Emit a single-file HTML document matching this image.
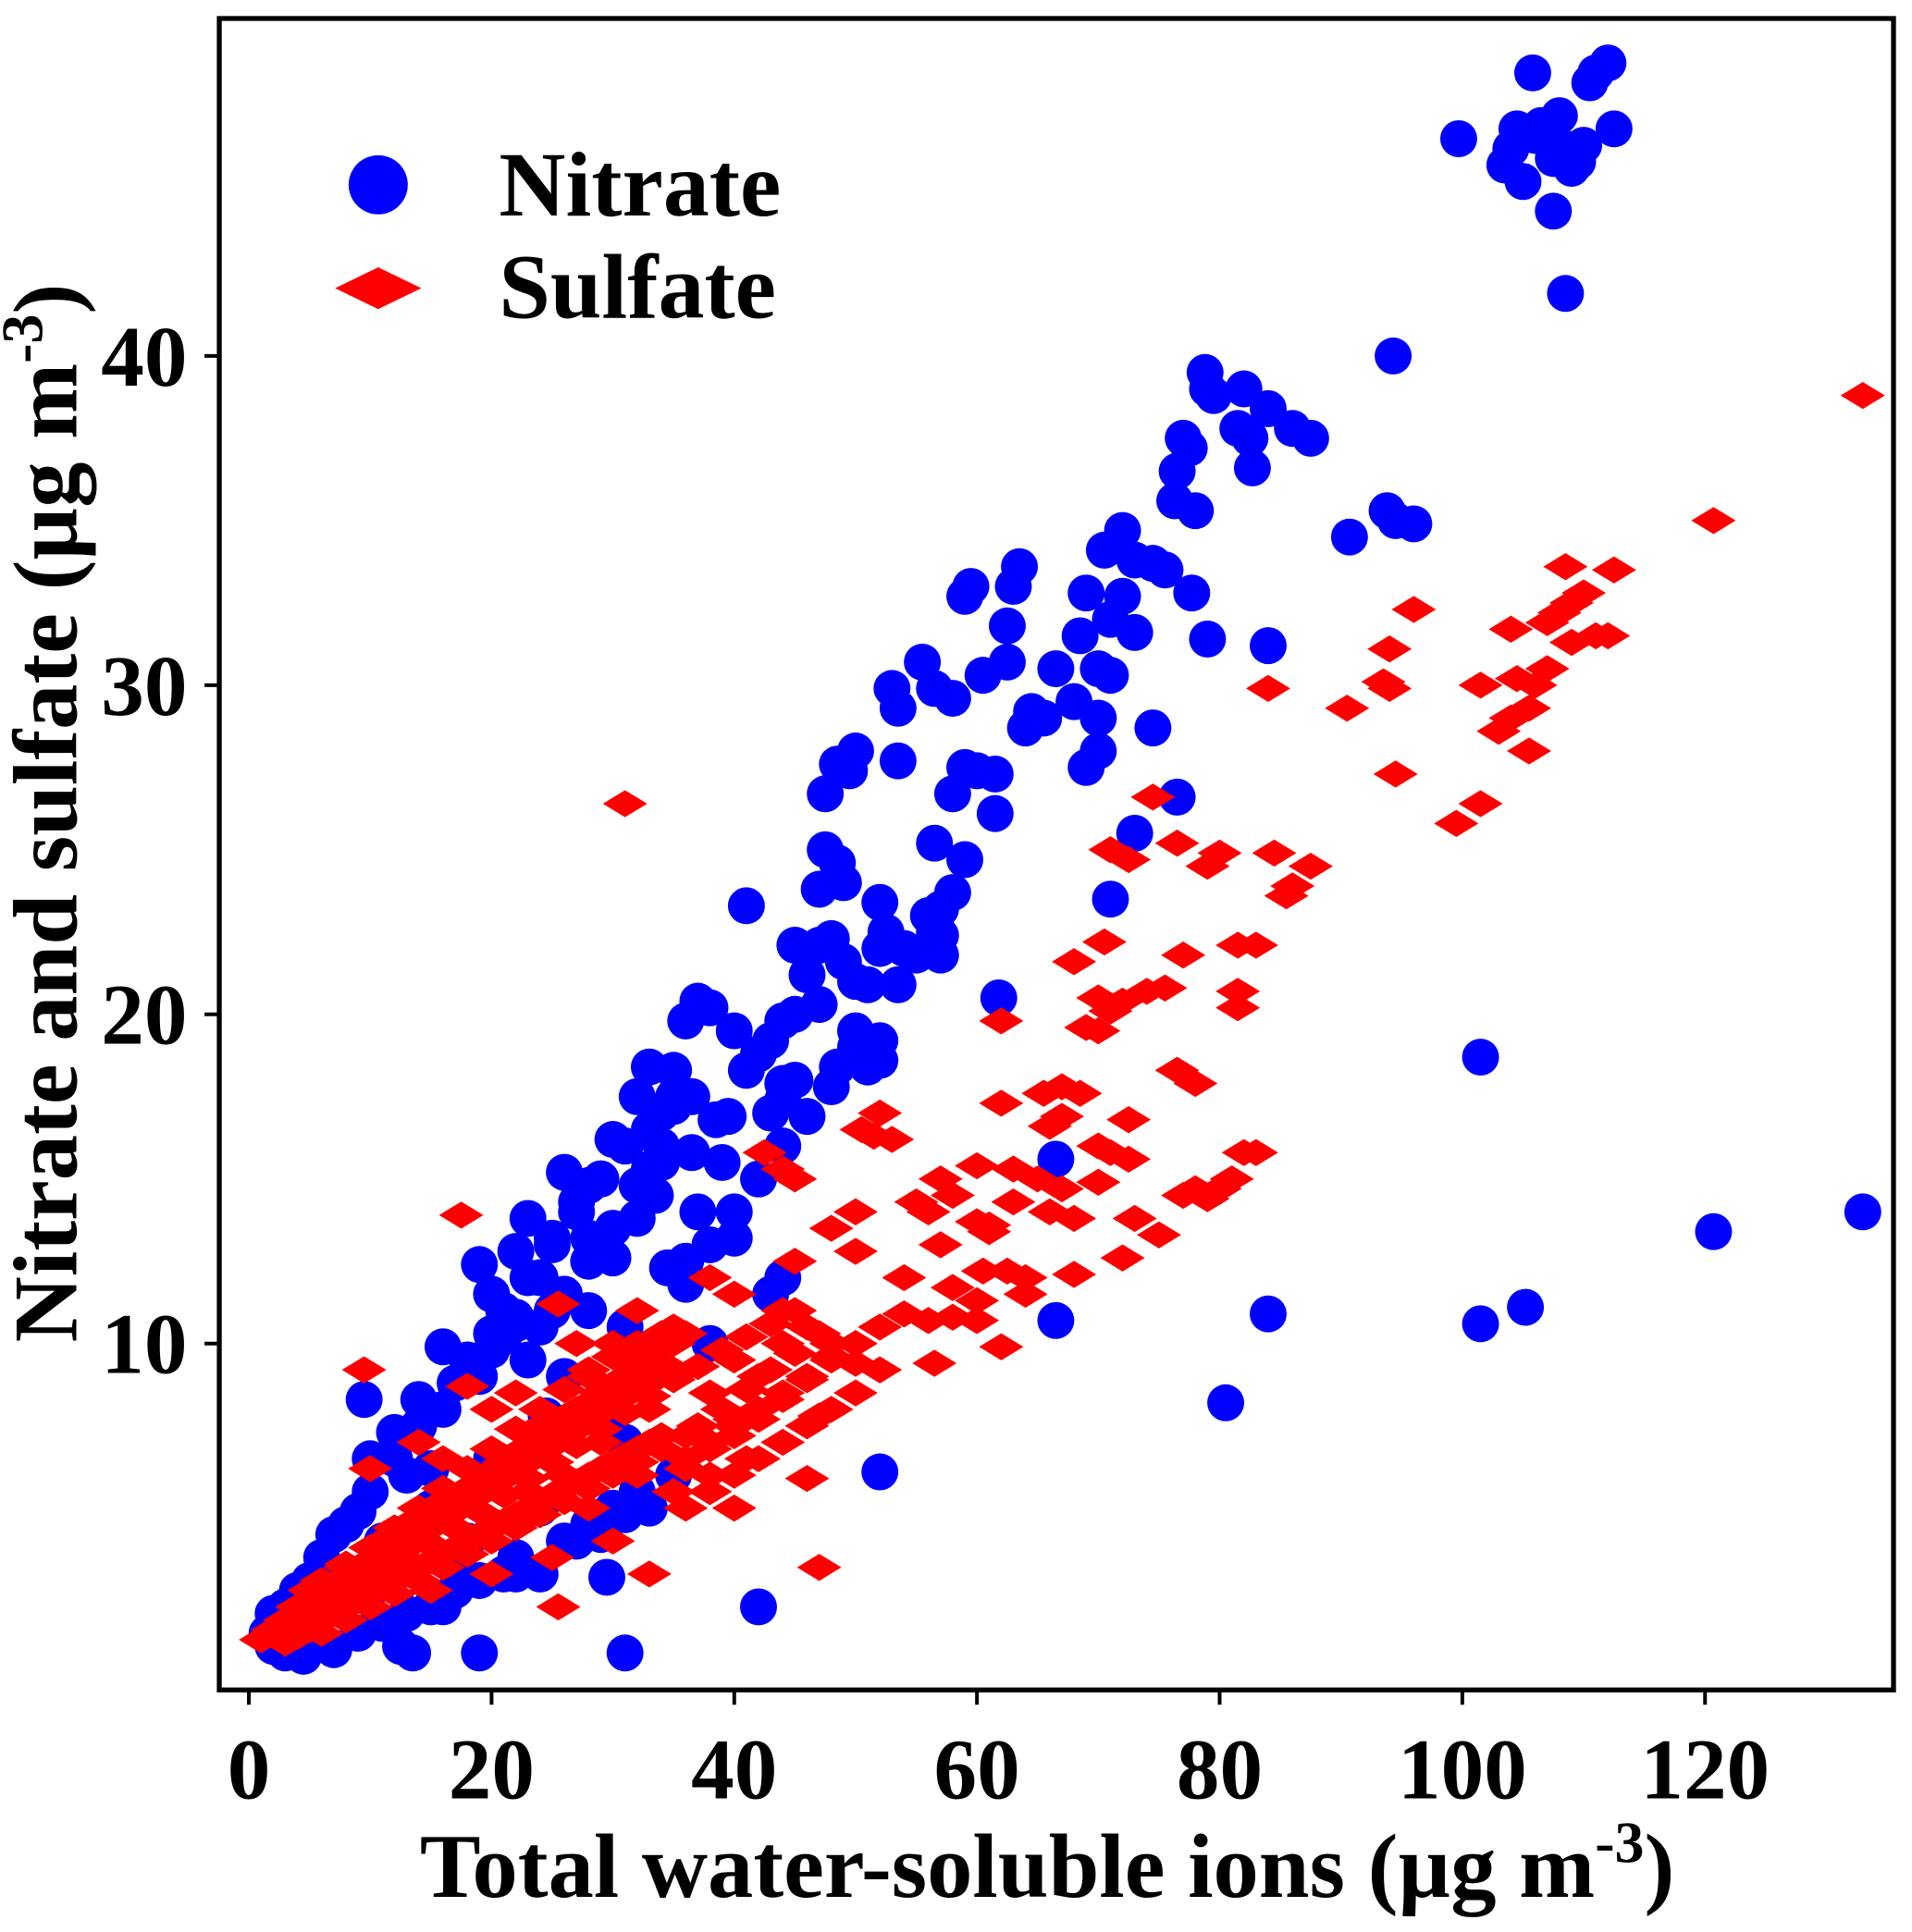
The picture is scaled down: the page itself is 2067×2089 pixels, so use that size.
<!DOCTYPE html>
<html><head><meta charset="utf-8"><style>
html,body{margin:0;padding:0;background:#fff;}
svg{display:block;}
text{font-family:"Liberation Serif",serif;font-weight:bold;fill:#000;}
</style></head><body>
<svg id="chart" width="2067" height="2089" viewBox="0 0 1552 1568.5" xmlns="http://www.w3.org/2000/svg">
<rect x="0" y="0" width="1552" height="1569" fill="#fff"/>
<g id="marks"></g>
<rect x="178" y="15" width="1359" height="1357" fill="none" stroke="#000" stroke-width="4"/>
<g id="xticks"></g>
<g id="yticks"></g>
<text x="850" y="1540" font-size="74" text-anchor="middle">Total water-soluble ions (µg m<tspan dy="-28" font-size="48">-3</tspan><tspan dy="28">)</tspan></text>
<text transform="translate(62,660) rotate(-90)" font-size="74" text-anchor="middle">Nitrate and sulfate (µg m<tspan dy="-28" font-size="48">-3</tspan><tspan dy="28">)</tspan></text>
<g>
<circle cx="307" cy="150" r="24" fill="#0000ff"/>
<text x="405" y="175" font-size="75">Nitrate</text>
<polygon points="272,234 307,217 342,234 307,251" fill="#ff0000"/>
<text x="405" y="258" font-size="75">Sulfate</text>
</g>
</svg>
<script>
const xTicks=[0,20,40,60,80,100,120];
const yTicks=[10,20,30,40];
const nitrateX=[99.7,103.5,104,104.5,105,105.8,106,106.5,107.5,107.5,108,108.5,109,109.5,110,110.5,111,112,112.5,108.5,94.3,90.7,93.8,94.5,96,84,78.8,79,79.5,82,81.5,82.5,82.7,84,86,87.5,77,77.5,76.5,76.3,78,77.7,79,76.5,74.5,72,70.5,73,74.5,75.5,71,72,73,69,68.5,70,71,66.5,68,70,70,69,64.5,64,65.5,62.5,60.5,63.5,63,62.5,59.5,59,55.5,56.5,58,53,53.5,53.5,50,48.5,49.5,47.5,60,61.5,61.5,59,58,56.5,59,73,71,52,52.5,54,55,56.5,57,56,57,58,57,47.5,48.5,47,49,41,45,47,48,49,46,47,50,51,52,53.5,52,51,52,50,50,48.5,48,61.8,37,38,36,40,42,43,44,45,41,44,46,44,39.5,38.5,36.5,35,34,33,35,32,36.5,34,33,31,30,29,28,26,27,28,25,23,22,24,19,20,22,21,20,18,16,19,17,14,9.5,12,10,13,15,9,7,6,5,4,3,2,1.5,2,3,4.5,7,12.5,13.5,19,31,42,29.5,52,66.5,66.5,84,80.5,101.5,105.2,101.5,120.7,133,34.5,40,44,43,25,26,30,33,24,18,12,10,16,22,27,35,31,38,36,31,28,23,30,32,33.5,24.5,20,15,8,11,17,
21,23,25,27,29,31,33,35,24,26,28,30,32,34,18,20,22,14,16,12,10,8,6,26,28,30,32,22,24,27,29,31,17,19,21,13,15,11,9,5,4,3,36,38,40,42,44,37,39,43,45];
const nitrateY=[46.6,45.8,46.3,46.9,45.3,48.6,46.7,47,44.4,46,47.3,46.3,45.7,45.9,46.4,48.3,48.6,48.9,46.9,41.9,40,34.5,35.3,35,34.9,31.2,39.5,39,38.8,39,37.8,37.5,36.6,38.4,37.8,37.5,37.5,37.2,36.5,35.6,35.3,32.8,31.4,26.6,28.7,34.7,34.1,33.8,33.7,33.5,32,32.7,31.6,32.8,31.5,30.5,30.3,30.5,29.5,29,28,27.5,29.2,28.7,29,30.7,30.3,33.6,33,31.8,33,32.7,30.7,29.9,29.6,29.9,29.3,27.7,28,27.6,27.4,26.7,27.4,27.3,26.1,27.5,26.7,25.2,24.7,25.5,23.5,23.4,22.5,22,21.8,22.5,21.8,23,23.2,23.7,22.4,25,24.6,23.8,24,23.3,22.1,22.1,22.3,21.6,21.2,20.3,21,20.9,22,20.9,18.6,18.4,19.2,19.5,19,18.4,17.8,20.5,20.4,20.2,19.8,19.5,18.8,19.2,19.8,20,18.3,17.4,16.9,17.9,16.9,16.8,17.5,17.2,17,18.4,18.3,17.5,15.8,16,15.3,16,16.2,15,14.8,15.2,14.3,13.2,13.2,13.8,12.8,12,12.4,11.5,10.6,10.2,10.3,9.5,9.9,9,8.8,8.3,8.3,7.3,6.5,6,6.2,4.9,4.2,3,2.8,2.5,2,1.8,1.2,0.8,0.6,0.5,0.7,0.8,0.6,0.6,0.6,2,2.9,6.1,15.6,10.7,10.9,8.2,10.6,11.1,18.7,13.4,14,12.3,13.2,12,11.5,11,9,8,5,5,4,3,2.5,2,3,4,6,7,10,11.8,10.5,11,9.5,12.6,13.8,14.5,7.8,6.5,5,3,4,3.5,
11,12,13,14,15,16,16.5,17.5,10.5,11.5,12.5,13.5,14.8,15.5,9,9.8,10.8,7.5,8,6.5,5.5,4.5,3.5,4,4.5,5,5.5,3.5,3,4,4.2,4.8,2.5,2.8,3,1.8,2,1.5,1.2,1,0.9,0.8,12.5,13,14,15,16,14,15.5,17,18];
const sulfateX=[133,120.7,108.5,112.5,110,109,108,107,104,109,112,111,96,94,93.5,94,90.5,84,101.5,104.5,106,107,105.5,104,103,105.5,94.5,101.5,99.5,74.5,31,71,72.5,76.5,80,79,84.5,87.5,86,85.5,70.5,68,77,81.5,83,70,71,72,74,75.5,69,70,81.5,81.5,62,76.5,78,62,65.5,67,68.5,66,67,52,50.5,51.5,53,72.5,71,70,72.5,82,83,42.5,44,45,48,50,55,57,58,60,63,65,56,60,61,63,66,68,70,67,75,78,79,80,81,73,77,57,61,60.5,62.5,64,68,72,58,60,64,58,56,54,60,62,56.5,52,50,47,46,47,48,46,44,40,38,45,50,54,40,42,40,38,41,25.5,17.5,9.5,25.5,30,28,22,18,14,10,35,33,36,32,29,26,23,20,16,13,11,8,6,5,4,3,2,1,30,25,20,15,10,35,38,33,28,22,18,12,7,40,42,44,28,24,20,16,35,32,27,31,
2,3,4,5,6,7,8,9,10,11,12,13,14,15,16,17,18,19,20,21,22,23,24,25,26,27,28,29,30,31,32,33,34,35,36,3,4,5,6,7,8,9,10,11,12,13,14,15,16,17,18,19,20,21,22,23,24,25,26,27,28,29,30,31,32,33,34,4,6,8,10,12,14,16,18,20,22,24,26,28,30,32,34,5,7,9,11,13,15,17,19,21,23,25,27,29,31,33,35,37,39,41,43,45,38,40,42,44,46,48,50,52,36,38,40,42,44,46,48,50,
4,6,8,10,12,14,16,18,20,22,24,26,28,30,32,34,6,8,10,12,14,16,18,20,22,24,26,28,30,32,34,36,5,7,9,11,13,15,17,19,21,23,25,27,29,31,33,35,37,39,41,43,45,47,36,38,40,42,44,46,48];
const sulfateY=[38.8,35,33.6,33.5,32.8,32.5,32.2,31.9,31.7,31.3,31.5,31.5,32.3,31.1,30.1,29.9,29.3,29.9,30,30.2,30,30.5,29.3,29,28.6,28,27.3,26.4,25.8,26.6,26.4,25,24.7,25.2,24.9,24.5,24.9,24.5,23.9,23.6,22.2,21.6,21.8,22.1,22.1,20.5,20.1,20.4,20.7,20.8,19.6,19.5,20.7,20.2,19.8,18.3,17.9,17.3,17.6,17.8,17.6,16.6,16.9,17,16.5,16.3,16.2,16.8,15.8,16,15.6,15.8,15.8,15.8,15.3,15,13.5,14,14.3,15,14.5,15.4,15.3,15,14,13.7,13.6,14.3,14,13.8,14.9,14.7,13.3,14.7,14.4,14.7,15,13.8,14.5,13,13.4,12.2,12.2,12,12.1,12.6,11.7,11.3,11.5,10.8,10.7,10.9,10.7,9.9,9.4,9.2,9.4,7.8,5.9,3.2,10,10.5,11,11.5,12,12.5,12.8,12,9.5,9,7.7,8.5,6.5,11.2,13.9,9.2,2,10,9,8.5,8.7,7,6.2,9,8,6.5,6,7,6,5.5,6,5.2,4.5,4,3.3,2.8,2.5,2,1.6,1.3,1,4,3.5,3,2.5,2,5.5,6,3,5,4.5,4,3.2,2,5,8,10,8,7.5,8,6.5,10.5,11,10,9.5,
1.2,1.5,1.8,2.1,2.4,2.6,2.9,3.2,3.4,3.7,4,4.3,4.5,4.8,5,5.3,5.6,5.8,6.1,6.4,6.6,6.9,7.2,7.4,7.7,8,8.2,8.5,8.7,9,9.3,9.5,9.8,10,10.3,0.9,1.1,1.3,1.6,1.8,2,2.2,2.4,2.6,2.8,3,3.2,3.4,3.6,3.8,4,4.2,4.4,4.6,4.8,5,5.2,5.4,5.6,5.8,6,6.2,6.4,6.6,6.8,7,7.2,1.8,2.3,2.8,3.3,3.8,4.3,4.8,5.3,5.8,6.3,6.8,7.3,7.8,8.3,8.8,9.3,1.5,2,2.5,2.9,3.4,3.9,4.4,4.9,5.4,5.9,6.4,6.9,7.4,7.9,8.4,8.9,9.3,9.8,10.2,10.6,11,7,7.5,8,8.5,9,9.5,10,10.5,5,5.5,6,6.5,7,7.5,8,8.5,
2,2.6,3.2,3.8,4.4,5,5.6,6.2,6.8,7.4,8,8.6,9.2,9.6,10,10.3,1.2,1.6,2,2.4,2.8,3.2,3.6,4,4.4,4.8,5.2,5.6,6,6.4,6.8,7.2,1.8,2.3,2.8,3.3,3.8,4.4,4.9,5.4,5.9,6.4,6.9,7.4,7.9,8.4,8.8,9.2,7.5,8,8.6,9.2,9.7,10.3,6.2,6.8,7.2,7.7,8.3,8.9,9.6];

const NS='http://www.w3.org/2000/svg';
function sx(v){return 202+v*(1384-202)/120;}
function sy(v){return 1358-v*(1358-289)/40;}
const marks=document.getElementById('marks');
for(let i=0;i<nitrateX.length;i++){
  const c=document.createElementNS(NS,'circle');
  c.setAttribute('cx',sx(nitrateX[i]));c.setAttribute('cy',sy(nitrateY[i]));
  c.setAttribute('r',15);c.setAttribute('fill','#0000ff');
  
  
  marks.appendChild(c);
}
for(let i=0;i<sulfateX.length;i++){
  const x=sx(sulfateX[i]),y=sy(sulfateY[i]);
  const p=document.createElementNS(NS,'polygon');
  p.setAttribute('points',`${x-18},${y} ${x},${y-11} ${x+18},${y} ${x},${y+11}`);
  p.setAttribute('fill','#ff0000');
  
  
  marks.appendChild(p);
}
const xg=document.getElementById('xticks');
xTicks.forEach(v=>{
  const l=document.createElementNS(NS,'line');
  l.setAttribute('x1',sx(v));l.setAttribute('x2',sx(v));l.setAttribute('y1',1372);l.setAttribute('y2',1384);
  l.setAttribute('stroke','#000');l.setAttribute('stroke-width',3);
  
  
  xg.appendChild(l);
  const t=document.createElementNS(NS,'text');
  t.setAttribute('x',sx(v));t.setAttribute('y',1460);t.setAttribute('font-size',70);t.setAttribute('text-anchor','middle');
  t.textContent=v;
  
  
  xg.appendChild(t);
});
const yg=document.getElementById('yticks');
yTicks.forEach(v=>{
  const l=document.createElementNS(NS,'line');
  l.setAttribute('x1',166);l.setAttribute('x2',178);l.setAttribute('y1',sy(v));l.setAttribute('y2',sy(v));
  l.setAttribute('stroke','#000');l.setAttribute('stroke-width',3);
  
  
  yg.appendChild(l);
  const t=document.createElementNS(NS,'text');
  t.setAttribute('x',152);t.setAttribute('y',sy(v)+24);t.setAttribute('font-size',70);t.setAttribute('text-anchor','end');
  t.textContent=v;
  
  
  yg.appendChild(t);
});
</script>
</body></html>
